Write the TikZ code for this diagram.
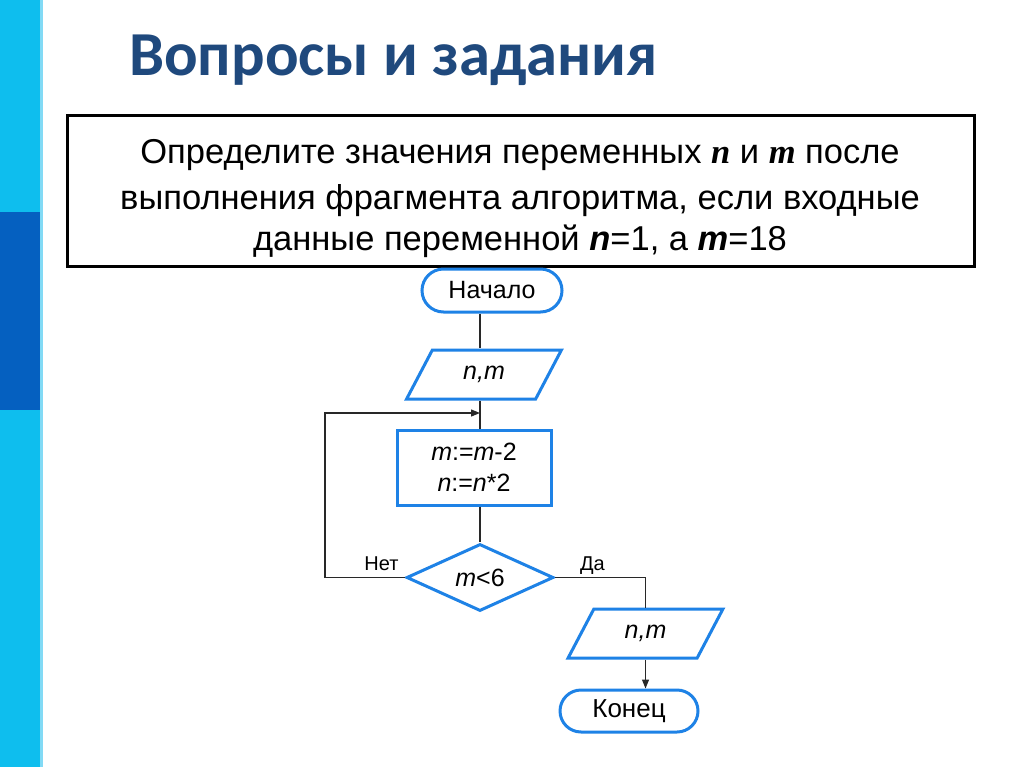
\documentclass[tikz,border=0pt]{standalone}
\usepackage{fontspec}
\setmainfont{Liberation Sans}
\newfontfamily\titlefont{Carlito}
\newfontfamily\serifvar{Liberation Serif}
\usetikzlibrary{shapes.geometric,shapes.misc,arrows.meta,calc}
\definecolor{stripblue}{RGB}{14,190,238}
\definecolor{stripdark}{RGB}{5,96,192}
\definecolor{striplite}{RGB}{130,218,245}
\definecolor{titleblue}{RGB}{31,73,125}
\definecolor{shapeblue}{RGB}{30,130,230}
\definecolor{linegray}{RGB}{40,40,40}
\tikzset{
  blk/.style={draw=shapeblue, line width=3pt, fill=white, inner sep=0pt, font=\fontsize{25}{31}\selectfont},
  term/.style={blk, rounded rectangle},
  iobox/.style={blk, trapezium, trapezium left angle=58, trapezium right angle=122, trapezium stretches=true},
  procbox/.style={blk, rectangle, align=center},
  decbox/.style={blk, diamond},
  conn/.style={draw=linegray, line width=1.2pt},
  arr/.style={conn, -{Triangle[length=9pt,width=7pt]}},
  lbl/.style={font=\fontsize{20}{22}\selectfont, inner sep=0pt},
  boxtext/.style={anchor=base, inner sep=0pt, font=\fontsize{34.5}{38}\selectfont},
}
\begin{document}
\begin{tikzpicture}[x=1pt,y=-1pt]
\useasboundingbox (0,0) rectangle (1024,767);
\fill[white] (0,0) rectangle (1024,767);
% left strip
\fill[stripblue] (0,0) rectangle (40,767);
\fill[stripdark] (0,212) rectangle (40,410);
\fill[striplite] (40,0) rectangle (43,767);
% title
\node[anchor=base west, inner sep=0pt, text=titleblue, font=\titlefont\bfseries\fontsize{62.6}{70}\selectfont] (title) at (129,76) {Вопросы и задания};
% task box
\node[draw=black, line width=3pt, minimum width=907, minimum height=150, inner sep=0pt] (task) at (521,191) {};
\node[boxtext] (l1) at (520,164) {Определите значения переменных {\serifvar\bfseries\itshape n} и {\serifvar\bfseries\itshape m} после};
\node[boxtext] (l2) at (520,210) {выполнения фрагмента алгоритма, если входные};
\node[boxtext] (l3) at (520,250) {данные переменной \textbf{\textit{n}}=1, а \textbf{\textit{m}}=18};
% flowchart
\node[term, minimum width=140, minimum height=43] (start) at (492,290.5) {Начало};
\node[iobox, minimum width=155, minimum height=49] (in) at (484,374.5) {\textit{n,m}};
\node[procbox, minimum width=154, minimum height=75] (proc) at (474,467.5) {\textit{m}:=\textit{m}-2\\\textit{n}:=\textit{n}*2};
\node[decbox, minimum width=147, minimum height=65] (dec) at (480,577.5) {\textit{m}<6};
\node[iobox, minimum width=155, minimum height=49] (out) at (645.5,633.5) {\textit{n,m}};
\node[term, minimum width=138, minimum height=42, font=\fontsize{26}{30}\selectfont] (end) at (629,711) {Конец};
\coordinate (colx) at (480,0);
\coordinate (loopin) at (480,413);
\node[lbl, anchor=base] (no) at (381.5,570) {Нет};
\node[lbl, anchor=base] (yes) at (592.5,570) {Да};
% connectors
\draw[conn] (start.south -| colx) -- (in.north -| colx);
\draw[conn] (in.south -| colx) -- (proc.north -| colx);
\draw[conn] (proc.south -| colx) -- (dec.north);
\draw[arr] (dec.west) -- ++(-80,0) |- (loopin);
\draw[conn] (dec.east) -| (out.north);
\draw[arr] (out.south) -- (out.south |- end.north);
\end{tikzpicture}
\end{document}
